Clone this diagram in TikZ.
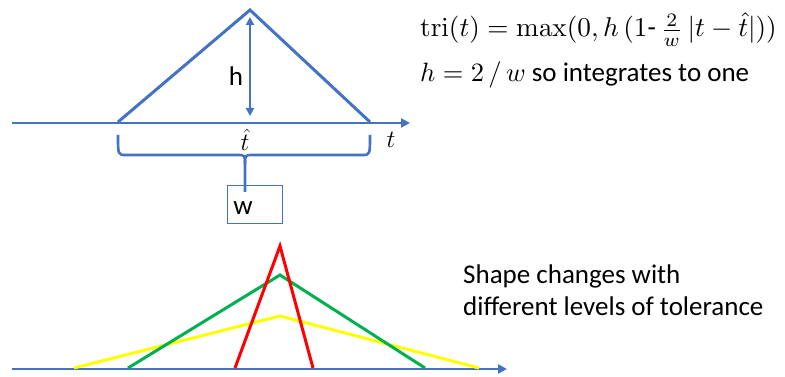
\documentclass[tikz,border=0pt]{standalone}
\usepackage{amsmath}
\usepackage{graphicx}
\usepackage[no-math]{fontspec}
\setmainfont{Carlito}
\usetikzlibrary{arrows.meta}
\definecolor{obl}{HTML}{4472C4}
\definecolor{ogr}{HTML}{00B050}
\definecolor{ored}{HTML}{FF0000}
\definecolor{oyl}{HTML}{FFFF00}
\newcommand{\bigmath}[2][2.65]{\scalebox{#1}{\fontsize{10}{12}\selectfont$#2$}}
\begin{document}
\begin{tikzpicture}[x=1pt,y=-1pt,
  axis/.style={draw=obl,line width=2.6pt,-{Triangle[length=9pt,width=9pt]}},
  curve/.style={line width=3pt,line join=miter},
  lbl/.style={inner sep=0pt,font=\fontsize{27}{32}\selectfont},
  txt/.style={inner sep=0pt,anchor=base west,font=\fontsize{27}{32}\selectfont}]
\useasboundingbox (0,0) rectangle (785,377);
% top diagram
\coordinate (a0) at (12,123);
\coordinate (a1) at (410,123);
\draw[axis] (a0) -- (a1);
\coordinate (L) at (118,122);
\coordinate (A) at (250,10);
\coordinate (R) at (370,122);
\draw[obl,curve] (L) -- (A) -- (R);
\coordinate (h0) at (250,17);
\coordinate (h1) at (250,116);
\draw[obl,line width=2.4pt,{Triangle[length=8pt,width=8pt]}-{Triangle[length=8pt,width=8pt]}] (h0) -- (h1);
\node[lbl] (hl) at (236,76) {h};
\node[lbl] (th) at (245,140) {$\hat{t}$};
\node[lbl] (tl) at (391,140) {$t$};
% brace
\coordinate (bL) at (118,135);
\coordinate (bR) at (370,135);
\coordinate (bT) at (245,192);
\draw[obl,line width=2.6pt] (bL) .. controls (118,155) .. (126,155) -- (237,155) .. controls (245,155) .. (245,164) -- (bT);
\draw[obl,line width=2.6pt] (bR) .. controls (370,155) .. (362,155) -- (253,155) .. controls (245,155) .. (245,164);
\node[draw=obl,line width=0.8pt,minimum width=55pt,minimum height=38pt,inner sep=0pt] (wb) at (254.5,204) {};
\node[lbl] (wl) at (243,208) {w};
% formulas
\node[txt] (f1) at (420,37) {\bigmath[2.72]{\mathrm{tri}(t)=\max(0,h\,(1\text{-}\,\tfrac{2}{w}\,|t-\hat{t}|))}};
\node[txt] (f2) at (420,82) {\bigmath{h=2\,/\,w} so integrates to one};
% bottom diagram
\coordinate (b0) at (12,369);
\coordinate (b1) at (507,369);
\draw[axis] (b0) -- (b1);
\coordinate (yL) at (74,368);
\coordinate (yA) at (280,316);
\coordinate (yR) at (479,368);
\draw[oyl,curve] (yL) -- (yA) -- (yR);
\coordinate (gL) at (128,368);
\coordinate (gA) at (280,275);
\coordinate (gR) at (425,368);
\draw[ogr,curve] (gL) -- (gA) -- (gR);
\coordinate (rL) at (235,368);
\coordinate (rA) at (280,246);
\coordinate (rR) at (313,368);
\draw[ored,curve] (rL) -- (rA) -- (rR);
\node[txt] (s1) at (463,283) {Shape changes with};
\node[txt] (s2) at (463,315) {different levels of tolerance};
\end{tikzpicture}
\end{document}
